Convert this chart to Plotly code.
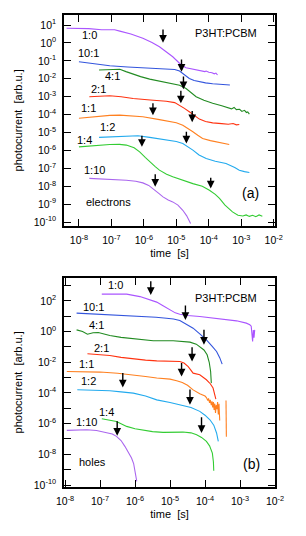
import numpy as np
import plotly.graph_objects as go

# ---------------- data (log10 of time [s] and of photocurrent [arb.u.]) ----------------
# Panel (a): electrons
a_labels = ["1:0", "10:1", "4:1", "2:1", "1:1", "1:2", "1:4", "1:10"]
a_x_10 = [-8.38, -7.7, -7.3, -7.05, -6.9, -6.74, -6.4, -6.03, -5.75, -5.52, -5.3, -5.11, -4.95, -4.85, -4.7, -4.49, -4.3, -4.2, -4.12, -4.08, -4.0, -3.9, -3.83, -3.78, -3.73]
a_y_10 = [0.82, 0.8, 0.74, 0.72, 0.74, 0.66, 0.5, 0.26, 0.03, -0.21, -0.5, -0.77, -1.05, -1.23, -1.38, -1.47, -1.52, -1.56, -1.6, -1.57, -1.64, -1.66, -1.72, -1.68, -1.79]
a_x_101 = [-8.0, -7.5, -7.05, -6.5, -6.03, -5.6, -5.31, -5.05, -4.9, -4.75, -4.6, -4.45, -4.29, -4.1, -3.88, -3.6, -3.35]
a_y_101 = [-1.05, -1.17, -1.27, -1.34, -1.38, -1.40, -1.42, -1.48, -1.57, -1.78, -1.98, -2.1, -2.17, -2.23, -2.28, -2.32, -2.35]
a_x_41 = [-7.38, -7.0, -6.74, -6.55, -6.34, -6.1, -5.82, -5.5, -5.11, -4.9, -4.7, -4.55, -4.39, -4.15, -3.88, -3.6, -3.4, -3.3, -3.22, -3.15, -3.05, -2.98, -2.9, -2.84, -2.8, -2.75]
a_y_41 = [-1.51, -1.49, -1.47, -1.6, -1.74, -1.88, -2.02, -2.14, -2.26, -2.36, -2.54, -2.78, -3.0, -3.2, -3.37, -3.5, -3.6, -3.68, -3.6, -3.72, -3.7, -3.82, -3.76, -3.88, -3.85, -3.97]
a_x_21 = [-7.68, -7.3, -7.05, -6.7, -6.33, -5.8, -5.31, -5.05, -4.9, -4.75, -4.6, -4.45, -4.29, -4.1, -3.88, -3.6, -3.4, -3.25, -3.15, -3.06]
a_y_21 = [-3.0, -2.96, -2.95, -3.0, -3.1, -3.18, -3.25, -3.33, -3.47, -3.65, -3.84, -4.05, -4.25, -4.38, -4.46, -4.5, -4.54, -4.5, -4.57, -4.55]
a_x_11 = [-8.0, -7.5, -7.05, -6.74, -6.4, -6.03, -5.52, -5.21, -5.0, -4.8, -4.65, -4.49, -4.34, -4.19, -3.95, -3.78, -3.6, -3.5, -3.42, -3.37]
a_y_11 = [-4.2, -4.1, -4.04, -4.03, -4.06, -4.12, -4.28, -4.36, -4.45, -4.59, -4.75, -4.96, -5.15, -5.33, -5.45, -5.52, -5.58, -5.6, -5.66, -5.67]
a_x_12 = [-7.38, -7.0, -6.74, -6.45, -6.18, -5.82, -5.5, -5.21, -5.0, -4.8, -4.65, -4.49, -4.3, -4.08, -3.8, -3.47, -3.2, -3.06, -2.9, -2.75]
a_y_12 = [-5.27, -5.25, -5.24, -5.22, -5.18, -5.27, -5.35, -5.42, -5.5, -5.61, -5.78, -5.98, -6.25, -6.45, -6.6, -6.73, -6.95, -7.1, -7.18, -7.23]
a_x_14 = [-8.0, -7.5, -7.05, -6.75, -6.54, -6.3, -6.13, -5.95, -5.82, -5.65, -5.52, -5.3, -5.11, -4.8, -4.49, -4.2, -3.98, -3.8, -3.67, -3.5, -3.27, -3.1, -2.95, -2.85, -2.75, -2.65, -2.55, -2.45, -2.35]
a_y_14 = [-5.8, -5.72, -5.67, -5.66, -5.70, -5.85, -6.08, -6.4, -6.64, -6.9, -7.1, -7.33, -7.47, -7.68, -7.85, -8.0, -8.22, -8.45, -8.68, -9.05, -9.43, -9.62, -9.66, -9.6, -9.68, -9.62, -9.7, -9.6, -9.67]
a_x_110 = [-7.68, -7.2, -6.8, -6.54, -6.25, -6.03, -5.85, -5.72, -5.55, -5.41, -5.25, -5.11, -4.95, -4.8, -4.68, -4.56]
a_y_110 = [-7.56, -7.6, -7.63, -7.66, -7.72, -7.81, -7.95, -8.12, -8.38, -8.59, -8.77, -8.87, -9.05, -9.34, -9.65, -10.08]

# arrows panel (a): x, tail y, tip y (log10)
a_arrow_x = [-5.41, -4.84, -4.78, -4.86, -4.51, -5.72, -6.06, -4.69, -3.94, -5.65]
a_arrow_y0 = [0.83, -0.84, -1.79, -2.59, -3.71, -3.28, -5.09, -4.87, -7.44, -7.25]
a_arrow_y1 = [0.01, -1.61, -2.58, -3.37, -4.42, -4.03, -5.8, -5.61, -8.12, -8.03]

# Panel (b): holes
b_x_10 = [-6.95, -6.6, -6.24, -5.86, -5.6, -5.38, -5.2, -5.0, -4.85, -4.72, -4.5, -4.15, -3.8, -3.39, -3.1, -2.82, -2.75, -2.72, -2.68, -2.66, -2.64, -2.62, -2.6, -2.58]
b_y_10 = [2.44, 2.46, 2.44, 2.28, 2.1, 1.92, 1.68, 1.41, 1.22, 1.13, 1.05, 0.98, 0.9, 0.81, 0.7, 0.55, 0.5, 0.44, 0.35, -0.2, -0.65, 0.1, -0.4, 0.11]
b_x_101 = [-7.67, -7.2, -6.72, -6.2, -5.77, -5.4, -5.1, -4.9, -4.72, -4.55, -4.34, -4.15, -3.96, -3.8, -3.67, -3.58, -3.51]
b_y_101 = [1.2, 1.15, 1.09, 1.03, 0.98, 0.93, 0.87, 0.82, 0.72, 0.52, 0.22, -0.15, -0.54, -0.95, -1.3, -1.7, -2.12]
b_x_41 = [-7.67, -7.5, -7.36, -7.2, -7.05, -6.9, -6.72, -6.4, -6.05, -5.48, -4.91, -4.6, -4.43, -4.25, -4.15, -4.03, -3.94, -3.88, -3.84, -3.82]
b_y_41 = [0.11, 0.0, -0.17, -0.08, -0.06, -0.15, -0.26, -0.38, -0.47, -0.6, -0.6, -0.63, -0.69, -0.82, -0.97, -1.2, -1.51, -2.0, -2.6, -3.36]
b_x_21 = [-7.36, -7.0, -6.72, -6.4, -6.05, -5.7, -5.38, -5.0, -4.72, -4.6, -4.48, -4.34, -4.15, -3.96, -3.85, -3.77, -3.69]
b_y_21 = [-1.45, -1.5, -1.56, -1.68, -1.78, -1.86, -1.91, -1.94, -1.95, -2.05, -2.28, -2.71, -2.82, -3.14, -3.4, -3.68, -4.4]
b_x_11 = [-7.95, -7.5, -7.0, -6.5, -6.05, -5.7, -5.38, -5.0, -4.81, -4.65, -4.5, -4.34, -4.15, -4.0, -3.96, -3.92, -3.9, -3.87, -3.85, -3.82, -3.8, -3.78, -3.76, -3.74, -3.72, -3.7, -3.68, -3.66, -3.64, -3.62, -3.6, -3.58, None, -3.40, -3.39]
b_y_11 = [-2.6, -2.62, -2.64, -2.72, -2.82, -2.93, -3.03, -3.1, -3.2, -3.32, -3.5, -3.8, -4.05, -4.2, -4.3, -4.5, -4.35, -4.65, -4.45, -4.8, -4.55, -4.95, -4.6, -5.1, -4.7, -5.3, -4.8, -5.05, -4.6, -5.4, -4.7, -5.8, None, -4.5, -6.85]
b_x_12 = [-7.65, -7.2, -6.72, -6.4, -6.05, -5.7, -5.38, -5.0, -4.72, -4.4, -4.15, -4.0, -3.86, -3.75, -3.67, -3.62]
b_y_12 = [-3.79, -3.82, -3.86, -3.93, -4.01, -4.2, -4.45, -4.62, -4.77, -4.95, -5.2, -5.45, -5.75, -6.1, -6.61, -7.16]
b_x_14 = [-6.95, -6.75, -6.53, -6.4, -6.24, -6.0, -5.77, -5.5, -5.2, -4.9, -4.63, -4.4, -4.24, -4.1, -3.96, -3.87, -3.79, -3.76, -3.75]
b_y_14 = [-5.68, -5.75, -5.86, -6.0, -6.18, -6.33, -6.44, -6.52, -6.57, -6.57, -6.55, -6.6, -6.72, -6.9, -7.16, -7.45, -7.92, -8.5, -9.07]
b_x_110 = [-7.95, -7.6, -7.38, -7.1, -6.81, -6.65, -6.53, -6.4, -6.29, -6.2, -6.1, -6.04, -6.0, -5.97, -5.95]
b_y_110 = [-6.44, -6.42, -6.4, -6.45, -6.57, -6.68, -6.83, -7.1, -7.48, -7.85, -8.24, -8.6, -9.1, -9.4, -9.76]

b_arrow_x = [-5.55, -4.56, -4.03, -4.37, -4.67, -6.35, -4.43, -4.1, -6.51]
b_arrow_y0 = [3.37, 1.79, 0.22, -0.93, -1.95, -2.6, -3.68, -5.49, -5.75]
b_arrow_y1 = [2.39, 0.76, -0.86, -1.95, -2.93, -3.64, -4.77, -6.61, -6.79]

# curve labels (log10 positions)
a_lab_x = [-7.66, -7.72, -6.96, -7.39, -7.72, -7.11, -7.82, -7.51]
a_lab_y = [0.44, -0.56, -1.85, -2.58, -3.64, -4.70, -5.42, -7.1]
b_lab_x = [-6.57, -7.2, -7.09, -6.97, -7.38, -7.32, -6.81, -7.4]
b_lab_y = [3.04, 1.63, 0.44, -1.08, -2.12, -3.25, -5.21, -5.92]

colors = ["#aa55ff", "#3355dd", "#228b22", "#ff3311", "#ff8020", "#22aaee", "#33cc33", "#aa66ee"]

x_tick_exp = [-8, -7, -6, -5, -4, -3, -2]
a_y_tick_exp = list(range(-10, 2))
b_y_tick_exp = list(range(-10, 4))


def tolin(v):
    return [None if t is None else 10 ** t for t in v]


def sup(e):
    return "10<sup>%d</sup>" % e


a_series = [(a_x_10, a_y_10), (a_x_101, a_y_101), (a_x_41, a_y_41), (a_x_21, a_y_21),
            (a_x_11, a_y_11), (a_x_12, a_y_12), (a_x_14, a_y_14), (a_x_110, a_y_110)]
b_series = [(b_x_10, b_y_10), (b_x_101, b_y_101), (b_x_41, b_y_41), (b_x_21, b_y_21),
            (b_x_11, b_y_11), (b_x_12, b_y_12), (b_x_14, b_y_14), (b_x_110, b_y_110)]

fig = go.Figure()
for (xs, ys), c in zip(a_series, colors):
    fig.add_trace(go.Scatter(x=tolin(xs), y=tolin(ys), mode="lines", xaxis="x", yaxis="y",
                             line=dict(color=c, width=1.1), showlegend=False))
for (xs, ys), c in zip(b_series, colors):
    fig.add_trace(go.Scatter(x=tolin(xs), y=tolin(ys), mode="lines", xaxis="x2", yaxis="y2",
                             line=dict(color=c, width=1.1), showlegend=False))

FONT = "Liberation Sans, Arial, sans-serif"
ann = []
for x, y0, y1 in zip(a_arrow_x, a_arrow_y0, a_arrow_y1):
    ann.append(dict(x=x, y=y1, ax=x, ay=y0, xref="x", yref="y", axref="x", ayref="y",
                    text="", showarrow=True, arrowhead=2, arrowsize=1.1, arrowwidth=1.4, arrowcolor="black"))
for x, y0, y1 in zip(b_arrow_x, b_arrow_y0, b_arrow_y1):
    ann.append(dict(x=x, y=y1, ax=x, ay=y0, xref="x2", yref="y2", axref="x2", ayref="y2",
                    text="", showarrow=True, arrowhead=2, arrowsize=1.1, arrowwidth=1.4, arrowcolor="black"))
for t, x, y in zip(a_labels, a_lab_x, a_lab_y):
    ann.append(dict(x=x, y=y, xref="x", yref="y", text=t, showarrow=False, font=dict(size=11, color="black", family=FONT)))
for t, x, y in zip(a_labels, b_lab_x, b_lab_y):
    ann.append(dict(x=x, y=y, xref="x2", yref="y2", text=t, showarrow=False, font=dict(size=11, color="black", family=FONT)))
ann += [
    dict(x=-7.10, y=-8.87, xref="x", yref="y", text="electrons", showarrow=False, font=dict(size=11, color="black", family=FONT)),
    dict(x=-3.46, y=0.55, xref="x", yref="y", text="P3HT:PCBM", showarrow=False, font=dict(size=11, color="black", family=FONT)),
    dict(x=-2.73, y=-8.35, xref="x", yref="y", text="(a)", showarrow=False, font=dict(size=14, color="black", family=FONT)),
    dict(x=-7.21, y=-8.5, xref="x2", yref="y2", text="holes", showarrow=False, font=dict(size=11, color="black", family=FONT)),
    dict(x=-3.39, y=2.18, xref="x2", yref="y2", text="P3HT:PCBM", showarrow=False, font=dict(size=11, color="black", family=FONT)),
    dict(x=-2.67, y=-8.61, xref="x2", yref="y2", text="(b)", showarrow=False, font=dict(size=14, color="black", family=FONT)),
]

axcommon = dict(type="log", showline=True, linecolor="black", linewidth=1.6, mirror="ticks",
                ticks="inside", ticklen=7, tickwidth=1.4, tickcolor="black", showgrid=False, zeroline=False,
                automargin=False, tickfont=dict(size=10.5, color="black", family=FONT))

fig.update_layout(
    width=306, height=536, margin=dict(l=56, r=39, t=7, b=57),
    paper_bgcolor="white", plot_bgcolor="white", annotations=ann,
    xaxis=dict(axcommon, domain=[0, 1], anchor="y", range=[-8.46, -1.96], ticklabelstandoff=4,
               tickvals=tolin(x_tick_exp), ticktext=[sup(e) for e in x_tick_exp],
               title=dict(text="time  [s]", font=dict(size=11, color="black", family=FONT), standoff=4)),
    yaxis=dict(axcommon, domain=[0.5536, 1], anchor="x", range=[-10.2, 1.56], ticklabelstandoff=4,
               tickvals=tolin(a_y_tick_exp), ticktext=[sup(e) for e in a_y_tick_exp],
               title=dict(text="photocurrent  [arb.u.]", font=dict(size=11, color="black", family=FONT), standoff=9)),
    xaxis2=dict(axcommon, domain=[0, 1], anchor="y2", range=[-8.03, -2.0], ticklabelstandoff=4,
                tickvals=tolin(x_tick_exp), ticktext=[sup(e) for e in x_tick_exp],
                title=dict(text="time  [s]", font=dict(size=11, color="black", family=FONT), standoff=4)),
    yaxis2=dict(axcommon, domain=[0, 0.4434], anchor="x2", range=[-10.13, 3.51], ticklabelstandoff=4,
                tickvals=tolin(b_y_tick_exp), ticktext=[sup(e) if e % 2 == 0 else "" for e in b_y_tick_exp],
                title=dict(text="photocurrent  [arb.u.]", font=dict(size=11, color="black", family=FONT), standoff=9)),
)

fig.write_html("out.html")
